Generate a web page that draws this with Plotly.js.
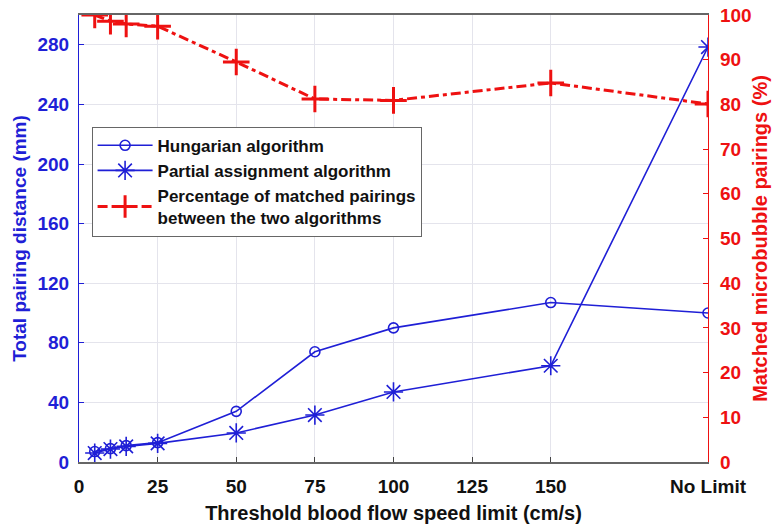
<!DOCTYPE html>
<html><head><meta charset="utf-8">
<script src="https://cdn.plot.ly/plotly-3.0.1.min.js"></script>
<style>html,body{margin:0;padding:0;background:#fff}#chart{width:780px;height:527px}</style>
</head><body><div id="chart"></div>
<script>
const xValues = [5, 10, 15, 25, 50, 75, 100, 150, 200];
const xTickVals = [0, 25, 50, 75, 100, 125, 150, 200];
const xTickText = ['0', '25', '50', '75', '100', '125', '150', 'No Limit'];
const hungarian = [7, 9, 11, 13, 34, 74, 90, 107, 100];
const partial = [6, 8.7, 10.5, 12.5, 19.5, 31.5, 47, 64.6, 278.5];
const percentMatched = [100, 98.6, 98, 97.5, 89.5, 81.2, 80.9, 84.8, 80.1];

const blue = '#1f1fd6';
const red = '#ee1111';
const fontFam = 'Liberation Sans, Arial, sans-serif';

const traces = [
  {x: xValues, y: hungarian, name: 'Hungarian algorithm', mode: 'lines+markers',
   line: {color: blue, width: 1.6},
   marker: {symbol: 'circle-open', size: 10, color: blue, line: {width: 1.6, color: blue}}},
  {x: xValues, y: partial, name: 'Partial assignment algorithm', mode: 'lines+markers',
   line: {color: blue, width: 1.6},
   marker: {symbol: 'asterisk-open', size: 16, color: blue, line: {width: 1.6, color: blue}}},
  {x: xValues, y: percentMatched, yaxis: 'y2',
   name: 'Percentage of matched pairings<br>between the two algorithms', mode: 'lines+markers',
   line: {color: red, width: 3, dash: '10px,4px,4px,4px'},
   marker: {symbol: 'cross-thin-open', size: 19, color: red, line: {width: 3, color: red}}}
];

const layout = {
  width: 780, height: 527,
  margin: {l: 79, r: 72, t: 15, b: 65},
  paper_bgcolor: '#fff', plot_bgcolor: '#fff',
  font: {family: fontFam, size: 16, color: '#111'},
  showlegend: true,
  legend: {x: 0.02, y: 0.75, xanchor: 'left', yanchor: 'top',
    bgcolor: '#fff', bordercolor: '#666', borderwidth: 1, itemwidth: 55,
    font: {family: fontFam, size: 17, color: '#111', weight: 'bold'}, tracegroupgap: 0},
  xaxis: {range: [0, 200], tickvals: xTickVals, ticktext: xTickText,
    showgrid: true, gridcolor: '#e4e4ec', zeroline: false,
    showline: true, linecolor: '#666', linewidth: 1.5, mirror: true,
    ticks: 'inside', ticklen: 5, tickcolor: '#444', ticklabelstandoff: 6,
    tickfont: {family: fontFam, size: 19, color: '#111', weight: 'bold'},
    title: {text: 'Threshold blood flow speed limit (cm/s)', standoff: 10,
      font: {family: fontFam, size: 20, color: '#111', weight: 'bold'}}},
  yaxis: {range: [0, 300], tickvals: [0, 40, 80, 120, 160, 200, 240, 280],
    showgrid: true, gridcolor: '#e4e4ec', zeroline: false,
    showline: true, linecolor: blue, linewidth: 1.2,
    ticks: 'inside', ticklen: 5, tickcolor: blue, ticklabelstandoff: 5,
    tickfont: {family: fontFam, size: 19, color: blue, weight: 'bold'},
    title: {text: 'Total pairing distance (mm)', standoff: 5,
      font: {family: fontFam, size: 19, color: blue, weight: 'bold'}}},
  yaxis2: {range: [0, 100], overlaying: 'y', side: 'right',
    tickvals: [0, 10, 20, 30, 40, 50, 60, 70, 80, 90, 100],
    showgrid: false, zeroline: false,
    showline: true, linecolor: red, linewidth: 1.2,
    ticks: 'inside', ticklen: 5, tickcolor: red, ticklabelstandoff: 7,
    tickfont: {family: fontFam, size: 19, color: red, weight: 'bold'},
    title: {text: 'Matched microbubble pairings (%)', standoff: 2,
      font: {family: fontFam, size: 20, color: red, weight: 'bold'}}}
};

Plotly.newPlot('chart', traces, layout, {displayModeBar: false, responsive: false});
</script>
</body></html>
